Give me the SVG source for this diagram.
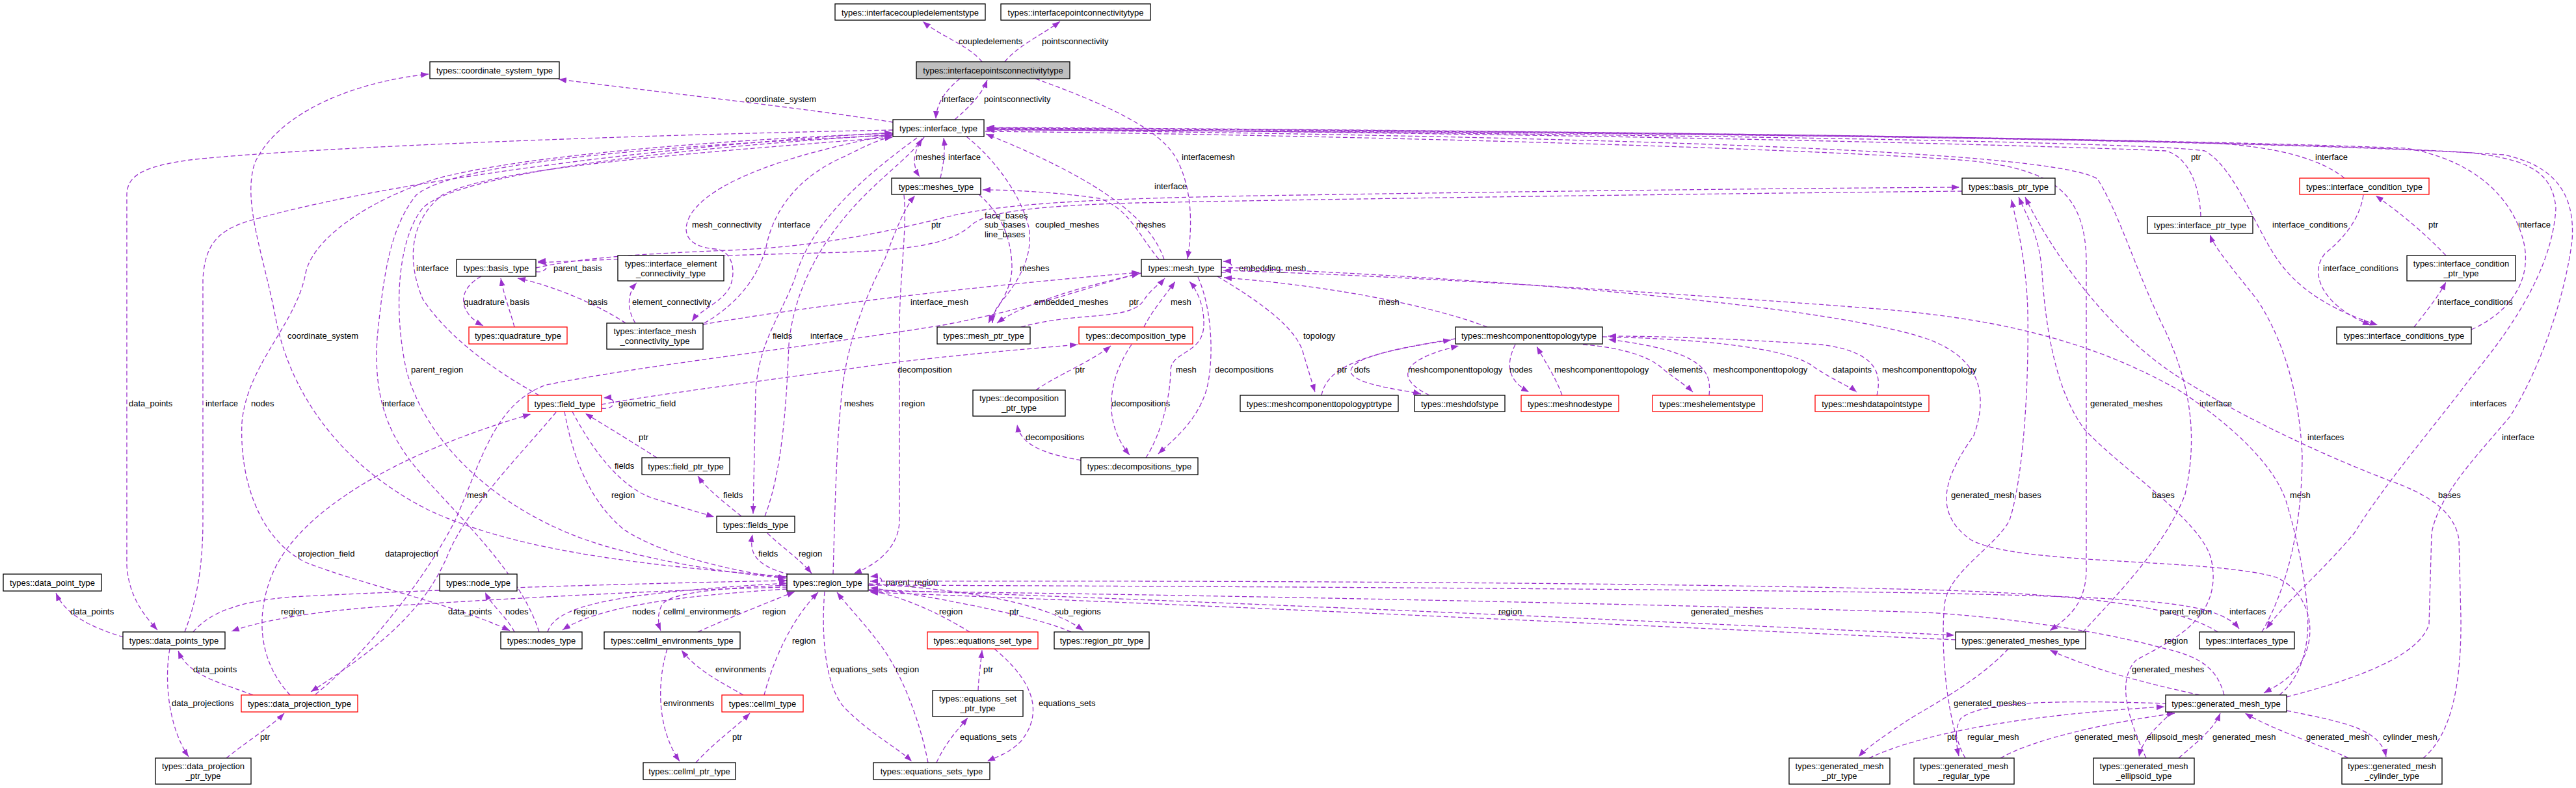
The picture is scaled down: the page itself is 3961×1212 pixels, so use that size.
<svg xmlns="http://www.w3.org/2000/svg" width="3961" height="1212" viewBox="0 0 3961 1212">
<defs>
<marker id="a" viewBox="0 0 12 9" refX="12" refY="4.5" markerWidth="12" markerHeight="9" markerUnits="userSpaceOnUse" orient="auto"><path d="M0,0 L12,4.5 L0,9 z" fill="#9a32cd" stroke="none"/></marker>
<style>
rect{fill:#fff;stroke:#000;stroke-width:1.3}
.r rect{stroke:#ff0000}
.f rect{fill:#bfbfbf}
text{font-family:"Liberation Sans",Arial,sans-serif;font-size:13px;fill:#000}
.n text{text-anchor:middle}
#edges path{fill:none;stroke:#9a32cd;stroke-width:1.3;stroke-dasharray:7,4;marker-end:url(#a)}
</style>
</defs>
<rect x="0" y="0" width="3961" height="1212" style="fill:#fff;stroke:none"/>
<g id="edges">
<path d="M1510,95 C1490,70 1445,55 1419,33"/><text x="1474" y="68">coupledelements</text>
<path d="M1545,95 C1565,70 1605,52 1630,33"/><text x="1602" y="68">pointsconnectivity</text>
<path d="M1476,121 C1455,138 1440,158 1439,183"/><text x="1448" y="157">interface</text>
<path d="M1468,184 C1490,165 1510,145 1518,123"/><text x="1513" y="157">pointsconnectivity</text>
<path d="M1592,121 C1700,160 1790,200 1812,250 C1836,300 1832,360 1826,398"/><text x="1817" y="246">interfacemesh</text>
<path d="M1373,188 C1250,168 1000,140 859,122"/><text x="1146" y="157">coordinate_system</text>
<path d="M1210,887 C1000,870 800,850 660,785 C520,715 445,600 424,490 C405,390 372,310 392,250 C430,170 550,125 659,114"/><text x="442" y="521">coordinate_system</text>
<path d="M1421,211 C1402,235 1403,255 1414,272"/><text x="1408" y="246">meshes</text>
<path d="M1446,274 C1450,255 1454,235 1451,212"/><text x="1458" y="246">interface</text>
<path d="M1281,883 C1283,820 1285,700 1293,620 C1300,520 1340,440 1360,400 C1375,360 1390,320 1407,301"/><text x="1298" y="625">meshes</text>
<path d="M1390,300 C1395,350 1384,420 1383,500 L1383,800 C1383,840 1350,868 1313,882"/><text x="1386" y="625">region</text>
<path d="M1372,207 C1250,230 1100,270 1062,330 C1045,360 1060,380 1100,383 C1128,386 1132,420 1122,442 C1110,465 1075,478 1064,494"/><text x="1064" y="350">mesh_connectivity</text>
<path d="M1083,497 C1130,470 1165,430 1178,380 C1190,320 1230,270 1300,240 C1330,225 1350,215 1372,210"/><text x="1196" y="350">interface</text>
<path d="M1486,210 C1530,245 1570,300 1582,350 C1590,400 1560,440 1535,470 C1528,480 1526,490 1526,497"/><text x="1592" y="350">coupled_meshes</text>
<path d="M1505,299 C1535,325 1555,360 1556,410 C1556,450 1530,475 1520,497"/><text x="1568" y="417">meshes</text>
<path d="M1755,420 C1680,438 1580,462 1533,497"/><text x="1590" y="469">embedded_meshes</text>
<path d="M1570,503 C1660,478 1740,495 1760,460 C1770,445 1785,435 1791,428"/><text x="1736" y="469">ptr</text>
<path d="M1790,399 C1770,340 1700,280 1516,206"/><text x="1775" y="291">interface</text>
<path d="M1782,399 C1750,360 1735,320 1690,305 C1620,295 1550,292 1511,292"/><text x="1747" y="350">meshes</text>
<path d="M1878,419 C1898,420 1900,402 1881,402"/><text x="1905" y="417">embedding_mesh</text>
<path d="M1081,499 C1250,470 1500,440 1752,419"/><text x="1400" y="469">interface_mesh</text>
<path d="M824,412 C900,395 1000,390 1120,385 C1250,380 1350,360 1450,335 C1530,315 1650,305 2000,300 C2500,292 2850,289 3013,288"/><text x="1514" y="336">face_bases</text><text x="1514" y="350">sub_bases</text><text x="1514" y="365">line_bases</text>
<path d="M3017,294 C2700,297 2100,305 1750,312 C1600,316 1520,325 1495,345 C1470,368 1430,383 1300,388 C1100,393 950,398 827,404"/><text x="1432" y="350">ptr</text>
<path d="M824,418 C845,420 846,401 827,402"/><text x="851" y="417">parent_basis</text>
<path d="M740,425 C703,445 703,480 743,501"/><text x="713" y="469">quadrature</text>
<path d="M791,503 C785,480 775,455 770,428"/><text x="784" y="469">basis</text>
<path d="M962,497 C925,472 855,440 796,428"/><text x="904" y="469">basis</text>
<path d="M977,497 C963,475 965,450 979,435"/><text x="972" y="469">element_connectivity</text>
<path d="M1410,212 C1330,270 1250,340 1225,420 C1205,480 1168,520 1162,600 L1158,790"/><text x="1188" y="521">fields</text>
<path d="M1176,794 C1205,720 1210,600 1213,530 C1220,450 1260,370 1330,300 C1370,260 1405,235 1418,213"/><text x="1246" y="521">interface</text>
<path d="M925,622 C1000,608 1200,582 1380,557 C1500,543 1600,535 1657,530"/><text x="1380" y="573">decomposition</text>
<path d="M1593,600 C1620,580 1680,555 1708,532"/><text x="1653" y="573">ptr</text>
<path d="M1759,503 C1770,480 1795,450 1807,433"/><text x="1800" y="469">mesh</text>
<path d="M1740,530 C1712,570 1688,640 1737,700"/><text x="1709" y="625">decompositions</text>
<path d="M1762,704 C1790,660 1800,600 1800,570 C1800,540 1850,545 1851,500 C1852,470 1840,445 1829,433"/><text x="1808" y="573">mesh</text>
<path d="M1842,426 C1866,480 1866,560 1855,600 C1840,650 1800,680 1781,698"/><text x="1868" y="573">decompositions</text>
<path d="M1662,708 C1620,700 1570,690 1564,653"/><text x="1577" y="677">decompositions</text>
<path d="M1872,425 C1930,460 1990,500 2003,540 C2012,570 2018,590 2022,603"/><text x="2004" y="521">topology</text>
<path d="M2287,503 C2200,470 2050,440 1882,427"/><text x="2120" y="469">mesh</text>
<path d="M2032,608 C2040,570 2080,545 2231,523"/><text x="2056" y="573">ptr</text>
<path d="M2238,521 C2150,535 2075,550 2077,572 C2082,592 2160,600 2185,606"/><text x="2082" y="573">dofs</text>
<path d="M2198,608 C2150,585 2145,555 2243,532"/><text x="2165" y="573">meshcomponenttopology</text>
<path d="M2330,530 C2315,560 2318,585 2351,603"/><text x="2321" y="573">nodes</text>
<path d="M2402,608 C2392,580 2375,555 2363,533"/><text x="2390" y="573">meshcomponenttopology</text>
<path d="M2434,530 C2500,535 2540,550 2560,570 C2580,585 2595,595 2603,603"/><text x="2565" y="573">elements</text>
<path d="M2628,608 C2632,570 2620,540 2473,522"/><text x="2634" y="573">meshcomponenttopology</text>
<path d="M2464,518 C2650,522 2760,540 2790,565 C2820,585 2845,595 2855,603"/><text x="2818" y="573">datapoints</text>
<path d="M2886,608 C2895,570 2880,540 2800,530 C2650,520 2550,517 2473,517"/><text x="2894" y="573">meshcomponenttopology</text>
<path d="M1373,200 C1000,207 500,225 300,245 C220,255 195,270 195,300 L195,870 C198,920 225,950 242,969"/><text x="198" y="625">data_points</text>
<path d="M284,972 C300,930 312,880 312,800 L312,430 C315,370 340,350 400,335 C600,280 1000,225 1372,204"/><text x="316" y="625">interface</text>
<path d="M1373,205 C1100,215 800,240 670,275 C560,310 480,370 470,420 C455,500 380,560 372,650 C368,740 400,830 470,865 C560,900 700,930 784,970"/><text x="386" y="625">nodes</text>
<path d="M829,972 C800,880 700,790 640,720 C590,660 575,600 580,520 C590,420 600,350 640,300 C700,250 1000,225 1373,208"/><text x="588" y="625">interface</text>
<path d="M829,608 C760,570 690,520 650,460 C625,400 630,340 680,300 C760,260 1000,240 1373,211"/><text x="640" y="417">interface</text>
<path d="M1373,207 C1000,230 700,270 650,320 C610,370 605,480 625,570 C655,680 760,780 900,830 C1000,865 1150,885 1208,889"/><text x="632" y="573">parent_region</text>
<path d="M485,1068 C570,1000 660,880 700,800 C740,710 760,620 840,592 C1000,560 1200,540 1450,500 C1600,472 1700,432 1752,421"/><text x="718" y="766">mesh</text>
<path d="M855,634 C800,700 720,780 690,850 C650,950 560,1010 478,1064"/><text x="592" y="856">dataprojection</text>
<path d="M446,1069 C400,1020 390,950 420,880 C460,790 600,700 816,637"/><text x="458" y="856">projection_field</text>
<path d="M1210,903 C1000,908 760,922 600,932 C480,940 400,955 356,971"/><text x="689" y="945">data_points</text>
<path d="M297,972 C320,945 360,925 450,918 C700,905 1000,897 1210,893"/><text x="432" y="945">region</text>
<path d="M791,972 C780,950 755,930 746,911"/><text x="777" y="945">nodes</text>
<path d="M842,972 C855,930 950,912 1210,897"/><text x="882" y="945">region</text>
<path d="M1210,906 C1050,916 920,932 865,969"/><text x="972" y="945">nodes</text>
<path d="M190,980 C140,965 100,945 86,912"/><text x="108" y="945">data_points</text>
<path d="M261,998 C252,1050 260,1120 290,1164"/><text x="264" y="1086">data_projections</text>
<path d="M389,1069 C340,1050 290,1040 274,1001"/><text x="297" y="1034">data_points</text>
<path d="M348,1166 C380,1140 420,1115 437,1097"/><text x="400" y="1138">ptr</text>
<path d="M1215,884 C1160,870 1152,850 1157,822"/><text x="1166" y="856">fields</text>
<path d="M1180,820 C1200,840 1230,860 1248,882"/><text x="1228" y="856">region</text>
<path d="M880,633 C910,690 950,745 1000,765 C1040,778 1075,788 1098,795"/><text x="945" y="721">fields</text>
<path d="M1140,794 C1110,770 1085,750 1073,732"/><text x="1112" y="766">fields</text>
<path d="M1010,704 C980,685 940,660 900,636"/><text x="982" y="677">ptr</text>
<path d="M925,628 C948,631 950,610 928,612"/><text x="951" y="625">geometric_field</text>
<path d="M868,633 C880,700 905,770 960,815 C1030,860 1150,882 1209,889"/><text x="940" y="766">region</text>
<path d="M1210,900 C1100,905 1030,912 1018,930 C1010,945 1012,960 1016,970"/><text x="1020" y="945">cellml_environments</text>
<path d="M1073,972 C1110,955 1160,935 1222,910"/><text x="1172" y="945">region</text>
<path d="M1143,1069 C1110,1050 1070,1030 1048,1000"/><text x="1100" y="1034">environments</text>
<path d="M1175,1069 C1185,1030 1210,960 1258,911"/><text x="1218" y="990">region</text>
<path d="M1026,998 C1010,1050 1010,1120 1045,1171"/><text x="1020" y="1086">environments</text>
<path d="M1070,1173 C1100,1140 1130,1120 1153,1097"/><text x="1126" y="1138">ptr</text>
<path d="M1268,910 C1262,980 1270,1060 1300,1090 C1340,1130 1380,1150 1402,1171"/><text x="1277" y="1034">equations_sets</text>
<path d="M1427,1173 C1415,1110 1390,1050 1372,1020 C1350,980 1305,935 1287,911"/><text x="1377" y="1034">region</text>
<path d="M1491,972 C1455,950 1400,920 1336,908"/><text x="1444" y="945">region</text>
<path d="M1647,972 C1600,950 1450,920 1338,904"/><text x="1552" y="945">ptr</text>
<path d="M1336,898 C1450,905 1600,920 1666,970"/><text x="1622" y="945">sub_regions</text>
<path d="M1335,900 C1362,902 1362,884 1338,887"/><text x="1362" y="900">parent_region</text>
<path d="M1504,1062 C1505,1040 1508,1020 1510,1000"/><text x="1512" y="1034">ptr</text>
<path d="M1529,998 C1580,1040 1610,1090 1570,1140 C1550,1160 1530,1165 1518,1171"/><text x="1597" y="1086">equations_sets</text>
<path d="M1440,1173 C1455,1140 1475,1120 1488,1104"/><text x="1476" y="1138">equations_sets</text>
<path d="M1336,907 C1800,922 2600,958 3005,977"/><text x="2600" y="945">generated_meshes</text>
<path d="M3007,984 C2600,966 1800,928 1338,911"/><text x="2304" y="945">region</text>
<path d="M3410,972 C3360,940 3250,915 2961,907 C2500,895 1800,893 1338,894"/><text x="3321" y="945">parent_region</text>
<path d="M1338,900 C2000,902 2800,908 3000,913 C3300,920 3410,925 3443,967"/><text x="3428" y="945">interfaces</text>
<path d="M3420,1069 C3410,1030 3385,1010 3330,998 C3250,975 3100,950 2961,942 C2500,928 1800,914 1338,909"/><text x="3328" y="990">region</text>
<path d="M3382,1069 C3320,1055 3230,1035 3152,1000"/><text x="3278" y="1034">generated_meshes</text>
<path d="M3088,998 C3040,1050 2960,1090 2930,1110 C2900,1130 2870,1150 2858,1164"/><text x="3004" y="1086">generated_meshes</text>
<path d="M2874,1166 C2950,1130 3100,1100 3328,1087"/><text x="2994" y="1138">ptr</text>
<path d="M3332,1082 C3200,1078 3050,1075 3015,1105 C3005,1120 3008,1145 3012,1163"/><text x="3025" y="1138">regular_mesh</text>
<path d="M3076,1166 C3130,1135 3250,1110 3344,1097"/><text x="3190" y="1138">generated_mesh</text>
<path d="M3340,1095 C3320,1115 3295,1135 3289,1164"/><text x="3301" y="1138">ellipsoid_mesh</text>
<path d="M3350,1166 C3380,1140 3405,1120 3414,1097"/><text x="3402" y="1138">generated_mesh</text>
<path d="M3611,1166 C3580,1150 3500,1125 3452,1097"/><text x="3546" y="1138">generated_mesh</text>
<path d="M3516,1093 C3600,1110 3660,1120 3669,1164"/><text x="3664" y="1138">cylinder_mesh</text>
<path d="M3022,1166 C2995,1120 2983,1000 2990,930 C2995,880 3070,840 3090,800 C3110,740 3120,600 3118,480 C3116,400 3100,340 3093,307"/><text x="3104" y="766">bases</text>
<path d="M3300,1166 C3270,1100 3255,1045 3285,1015 C3340,985 3420,950 3400,860 C3385,800 3260,720 3205,660 C3160,600 3145,500 3140,420 C3136,360 3115,330 3104,303"/><text x="3309" y="766">bases</text>
<path d="M3726,1166 C3770,1130 3785,1050 3784,950 L3781,830 C3775,790 3740,765 3690,745 C3600,712 3460,650 3350,580 C3240,510 3150,380 3114,303"/><text x="3749" y="766">bases</text>
<path d="M3505,1069 C3540,1040 3552,990 3548,940 C3544,880 3530,820 3515,770 C3495,710 3420,645 3350,600 C3200,515 3050,490 2900,476 C2500,445 2100,422 1881,416"/><text x="3521" y="766">mesh</text>
<path d="M1878,411 C2300,428 2800,468 2960,520 C3040,548 3060,600 3035,670 C2985,740 2975,790 3030,830 C3100,870 3400,858 3500,888 C3560,915 3565,990 3530,1030 C3515,1048 3495,1058 3481,1066"/><text x="3000" y="766">generated_mesh</text>
<path d="M1515,202 C2000,207 2700,225 3000,245 C3150,255 3206,290 3208,400 L3208,880 C3206,930 3180,950 3152,970"/><text x="3214" y="625">generated_meshes</text>
<path d="M3203,972 C3250,920 3330,840 3360,760 C3378,680 3372,600 3330,510 C3285,420 3260,330 3225,275 C3160,235 2600,212 1517,199"/><text x="3382" y="625">interface</text>
<path d="M3384,333 C3382,280 3362,240 3330,232 C3100,222 2400,205 1517,198"/><text x="3369" y="246">ptr</text>
<path d="M1517,199 C2500,205 3300,218 3390,232 C3440,260 3470,360 3510,410 C3550,460 3610,485 3656,500"/><text x="3494" y="350">interface_conditions</text>
<path d="M3605,274 C3570,245 3500,225 3400,220 C3000,208 2200,200 1517,197"/><text x="3560" y="246">interface</text>
<path d="M3800,507 C3860,480 3895,430 3880,370 C3862,300 3800,245 3700,228 C3300,212 2300,200 1517,196"/><text x="3872" y="350">interface</text>
<path d="M1517,197 C2500,203 3500,215 3800,235 C3880,245 3925,260 3930,320 C3925,420 3850,520 3800,580 C3740,660 3670,740 3620,820 C3570,880 3510,930 3485,967"/><text x="3798" y="625">interfaces</text>
<path d="M3516,1072 C3620,1045 3720,1010 3735,960 L3739,820 C3750,760 3810,700 3860,640 C3910,560 3945,450 3955,370 C3960,300 3930,255 3850,238 C3500,215 2500,202 1517,200"/><text x="3847" y="677">interface</text>
<path d="M3478,972 C3520,900 3540,800 3540,700 C3535,600 3510,520 3470,460 C3430,410 3405,380 3398,361"/><text x="3548" y="677">interfaces</text>
<path d="M3634,300 C3628,340 3600,370 3575,390 C3550,420 3570,470 3645,500"/><text x="3572" y="417">interface_conditions</text>
<path d="M3761,393 C3720,350 3680,320 3653,301"/><text x="3734" y="350">ptr</text>
<path d="M3712,503 C3730,480 3750,455 3761,434"/><text x="3748" y="469">interface_conditions</text>
</g>
<g id="n1" class="n"><rect x="1284" y="6" width="231" height="25"/><text x="1399.5" y="23.5">types::interfacecoupledelementstype</text></g>
<g id="n2" class="n"><rect x="1539" y="6" width="230" height="25"/><text x="1654" y="23.5">types::interfacepointconnectivitytype</text></g>
<g id="n3" class="n f"><rect x="1409" y="95" width="236" height="26"/><text x="1527" y="113">types::interfacepointsconnectivitytype</text></g>
<g id="n4" class="n"><rect x="661" y="95" width="199" height="26"/><text x="760.5" y="113">types::coordinate_system_type</text></g>
<g id="n5" class="n"><rect x="1373" y="184" width="140" height="26"/><text x="1443" y="202">types::interface_type</text></g>
<g id="n6" class="n"><rect x="1371" y="274" width="137" height="25"/><text x="1439.5" y="291.5">types::meshes_type</text></g>
<g id="n7" class="n"><rect x="1755" y="399" width="123" height="26"/><text x="1816.5" y="417">types::mesh_type</text></g>
<g id="n8" class="n"><rect x="702" y="399" width="122" height="26"/><text x="763" y="417">types::basis_type</text></g>
<g id="n9" class="n"><rect x="950" y="393" width="163" height="39"/><text x="1031.5" y="409.5">types::interface_element</text><text x="1031.5" y="424.5">_connectivity_type</text></g>
<g id="n10" class="n r"><rect x="721" y="503" width="151" height="26"/><text x="796.5" y="521">types::quadrature_type</text></g>
<g id="n11" class="n"><rect x="933" y="497" width="148" height="40"/><text x="1007" y="514">types::interface_mesh</text><text x="1007" y="529">_connectivity_type</text></g>
<g id="n12" class="n r"><rect x="812" y="608" width="113" height="25"/><text x="868.5" y="625.5">types::field_type</text></g>
<g id="n13" class="n"><rect x="987" y="704" width="135" height="26"/><text x="1054.5" y="722">types::field_ptr_type</text></g>
<g id="n14" class="n"><rect x="1102" y="794" width="120" height="25"/><text x="1162" y="811.5">types::fields_type</text></g>
<g id="n15" class="n"><rect x="1441" y="503" width="143" height="26"/><text x="1512.5" y="521">types::mesh_ptr_type</text></g>
<g id="n16" class="n r"><rect x="1659" y="503" width="175" height="26"/><text x="1746.5" y="521">types::decomposition_type</text></g>
<g id="n17" class="n"><rect x="1496" y="600" width="142" height="40"/><text x="1567" y="617">types::decomposition</text><text x="1567" y="632">_ptr_type</text></g>
<g id="n18" class="n"><rect x="1662" y="704" width="180" height="26"/><text x="1752" y="722">types::decompositions_type</text></g>
<g id="n19" class="n"><rect x="1907" y="608" width="243" height="25"/><text x="2028.5" y="625.5">types::meshcomponenttopologyptrtype</text></g>
<g id="n20" class="n"><rect x="2238" y="503" width="226" height="26"/><text x="2351" y="521">types::meshcomponenttopologytype</text></g>
<g id="n21" class="n"><rect x="2175" y="608" width="139" height="25"/><text x="2244.5" y="625.5">types::meshdofstype</text></g>
<g id="n22" class="n r"><rect x="2339" y="608" width="150" height="25"/><text x="2414" y="625.5">types::meshnodestype</text></g>
<g id="n23" class="n r"><rect x="2541" y="608" width="169" height="25"/><text x="2625.5" y="625.5">types::meshelementstype</text></g>
<g id="n24" class="n r"><rect x="2791" y="608" width="175" height="25"/><text x="2878.5" y="625.5">types::meshdatapointstype</text></g>
<g id="n25" class="n"><rect x="3017" y="274" width="143" height="25"/><text x="3088.5" y="291.5">types::basis_ptr_type</text></g>
<g id="n26" class="n"><rect x="3302" y="333" width="162" height="26"/><text x="3383" y="351">types::interface_ptr_type</text></g>
<g id="n27" class="n r"><rect x="3536" y="274" width="199" height="25"/><text x="3635.5" y="291.5">types::interface_condition_type</text></g>
<g id="n28" class="n"><rect x="3701" y="393" width="167" height="39"/><text x="3784.5" y="409.5">types::interface_condition</text><text x="3784.5" y="424.5">_ptr_type</text></g>
<g id="n29" class="n"><rect x="3593" y="503" width="207" height="26"/><text x="3696.5" y="521">types::interface_conditions_type</text></g>
<g id="n30" class="n"><rect x="5" y="883" width="151" height="26"/><text x="80.5" y="901">types::data_point_type</text></g>
<g id="n31" class="n"><rect x="676" y="883" width="119" height="26"/><text x="735.5" y="901">types::node_type</text></g>
<g id="n32" class="n"><rect x="189" y="972" width="157" height="26"/><text x="267.5" y="990">types::data_points_type</text></g>
<g id="n33" class="n"><rect x="770" y="972" width="125" height="26"/><text x="832.5" y="990">types::nodes_type</text></g>
<g id="n34" class="n"><rect x="929" y="972" width="209" height="26"/><text x="1033.5" y="990">types::cellml_environments_type</text></g>
<g id="n35" class="n"><rect x="1210" y="883" width="125" height="26"/><text x="1272.5" y="901">types::region_type</text></g>
<g id="n36" class="n r"><rect x="1426" y="972" width="170" height="26"/><text x="1511" y="990">types::equations_set_type</text></g>
<g id="n37" class="n"><rect x="1621" y="972" width="146" height="26"/><text x="1694" y="990">types::region_ptr_type</text></g>
<g id="n38" class="n r"><rect x="371" y="1069" width="179" height="26"/><text x="460.5" y="1087">types::data_projection_type</text></g>
<g id="n39" class="n"><rect x="239" y="1166" width="147" height="40"/><text x="312.5" y="1183">types::data_projection</text><text x="312.5" y="1198">_ptr_type</text></g>
<g id="n40" class="n r"><rect x="1110" y="1069" width="125" height="26"/><text x="1172.5" y="1087">types::cellml_type</text></g>
<g id="n41" class="n"><rect x="989" y="1173" width="142" height="26"/><text x="1060" y="1191">types::cellml_ptr_type</text></g>
<g id="n42" class="n"><rect x="1434" y="1062" width="139" height="40"/><text x="1503.5" y="1079">types::equations_set</text><text x="1503.5" y="1094">_ptr_type</text></g>
<g id="n43" class="n"><rect x="1343" y="1173" width="179" height="26"/><text x="1432.5" y="1191">types::equations_sets_type</text></g>
<g id="n44" class="n"><rect x="3007" y="972" width="200" height="26"/><text x="3107" y="990">types::generated_meshes_type</text></g>
<g id="n45" class="n"><rect x="3382" y="972" width="146" height="26"/><text x="3455" y="990">types::interfaces_type</text></g>
<g id="n46" class="n"><rect x="3330" y="1069" width="186" height="26"/><text x="3423" y="1087">types::generated_mesh_type</text></g>
<g id="n47" class="n"><rect x="2751" y="1166" width="155" height="40"/><text x="2828.5" y="1183">types::generated_mesh</text><text x="2828.5" y="1198">_ptr_type</text></g>
<g id="n48" class="n"><rect x="2943" y="1166" width="154" height="40"/><text x="3020" y="1183">types::generated_mesh</text><text x="3020" y="1198">_regular_type</text></g>
<g id="n49" class="n"><rect x="3219" y="1166" width="155" height="40"/><text x="3296.5" y="1183">types::generated_mesh</text><text x="3296.5" y="1198">_ellipsoid_type</text></g>
<g id="n50" class="n"><rect x="3601" y="1166" width="154" height="40"/><text x="3678" y="1183">types::generated_mesh</text><text x="3678" y="1198">_cylinder_type</text></g>
</svg>
